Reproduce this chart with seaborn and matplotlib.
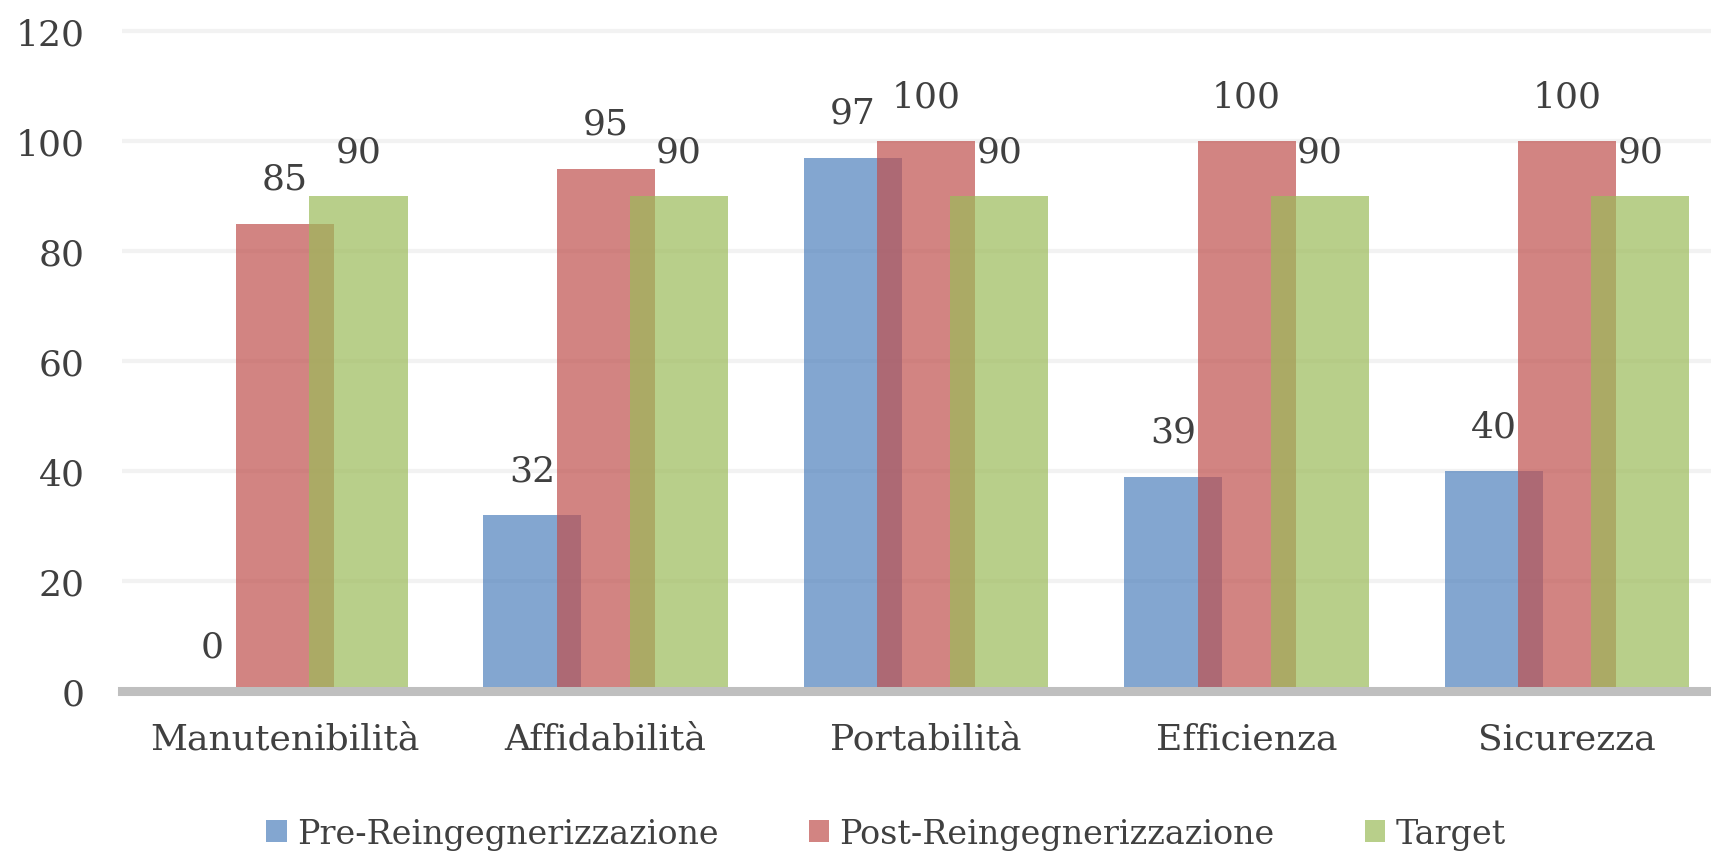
import pandas as pd
import numpy as np
import seaborn as sns
import matplotlib.pyplot as plt
from matplotlib.patches import Patch

# Chart data
categories = ["Manutenibilità", "Affidabilità", "Portabilità", "Efficienza", "Sicurezza"]
series = ["Pre-Reingegnerizzazione", "Post-Reingegnerizzazione", "Target"]
pre_values = [0, 32, 97, 39, 40]
post_values = [85, 95, 100, 100, 100]
target_values = [90, 90, 90, 90, 90]
y_ticks = [0, 20, 40, 60, 80, 100, 120]

colors = ["#4F81BD", "#C0504D", "#9BBB59"]
text_color = "#404040"

df = pd.DataFrame({
    "categoria": categories * 3,
    "serie": [series[0]] * 5 + [series[1]] * 5 + [series[2]] * 5,
    "valore": pre_values + post_values + target_values,
})

sns.set_style("white")
plt.rcParams["font.family"] = ["DejaVu Serif", "DejaVu Sans"]

W, H = 1711, 854
fig = plt.figure(figsize=(W / 100, H / 100), dpi=100)
ax_left, ax_bottom = 122 / W, (H - 692) / H
ax_top = (H - 692 + 121 * 5.5) / H
ax = fig.add_axes([ax_left, ax_bottom, 1 - ax_left, ax_top - ax_bottom])

# overlapping bars (Excel style): step between series 0.229, bar width 0.306
step, bar_w = 0.229, 0.306
sns.barplot(
    data=df, x="categoria", y="valore", hue="serie", hue_order=series,
    palette=colors, saturation=1, width=step * 3, dodge=True, alpha=0.7,
    linewidth=0, legend=False, ax=ax, errorbar=None,
)
for cont in ax.containers:
    for p in cont:
        cx = p.get_x() + p.get_width() / 2
        p.set_width(bar_w)
        p.set_x(cx - bar_w / 2)

for cont in ax.containers:
    ax.bar_label(cont, fmt="%d", padding=20, fontsize=26, color=text_color)

ax.set_xlim(-0.509, (W - 285) / 320.5)
ax.set_ylim(0, 121)
ax.set_yticks(y_ticks)
ax.yaxis.grid(True, color="#F2F2F2", linewidth=3)
ax.set_axisbelow(True)
for s in ["top", "right", "left"]:
    ax.spines[s].set_visible(False)
ax.spines["bottom"].set_color("#BFBFBF")
ax.spines["bottom"].set_linewidth(6.5)
ax.tick_params(axis="y", length=0, pad=27, labelsize=26, labelcolor=text_color)
ax.tick_params(axis="x", length=0, pad=22, labelsize=26, labelcolor=text_color)
ax.set_xlabel("")
ax.set_ylabel("")

handles = [Patch(facecolor=c, alpha=0.7, linewidth=0) for c in colors]
fig.legend(
    handles, series, loc="center", bbox_to_anchor=(886 / W, (H - 835) / H),
    ncol=3, frameon=False, fontsize=24, labelcolor=text_color,
    handlelength=0.62, handleheight=0.62, handletextpad=0.3, columnspacing=2.7,
)

fig.savefig("out.png", dpi=100)
plt.close()
